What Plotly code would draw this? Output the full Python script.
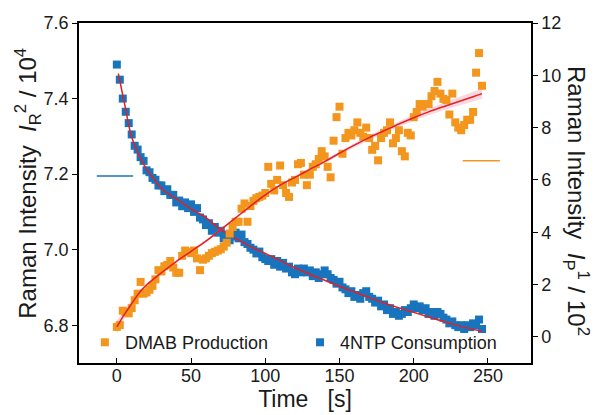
import plotly.graph_objects as go

# ---------------- data ----------------
t_data = list(range(0, 248, 2))  # 0..246

ntp_vals = [7.49, 7.45, 7.40, 7.365, 7.335, 7.305, 7.275, 7.265, 7.245, 7.235,
            7.21, 7.205, 7.19, 7.185, 7.17, 7.17, 7.155, 7.16, 7.145, 7.145,
            7.125, 7.13, 7.115, 7.125, 7.11, 7.12, 7.10, 7.11, 7.085, 7.08,
            7.065, 7.07, 7.05, 7.06, 7.045, 7.05, 7.03, 7.04, 7.025, 7.035,
            7.045, 7.03, 7.04, 7.02, 7.015, 7.005, 7.00, 6.99, 6.995, 6.98,
            6.975, 6.97, 6.975, 6.96, 6.97, 6.955, 6.965, 6.95, 6.955, 6.94,
            6.935, 6.95, 6.94, 6.95, 6.94, 6.945, 6.93, 6.94, 6.925, 6.935,
            6.945, 6.935, 6.925, 6.92, 6.91, 6.915, 6.90, 6.895, 6.885, 6.89,
            6.875, 6.88, 6.87, 6.885, 6.89, 6.875, 6.87, 6.86, 6.865, 6.85,
            6.855, 6.84, 6.845, 6.83, 6.835, 6.825, 6.83, 6.84, 6.835, 6.845,
            6.855, 6.845, 6.85, 6.84, 6.845, 6.83, 6.835, 6.825, 6.835, 6.83,
            6.82, 6.815, 6.805, 6.81, 6.80, 6.795, 6.80, 6.79, 6.80, 6.795,
            6.805, 6.80, 6.815, 6.79]

dmab_vals = [0.38, 0.45, 1.00, 0.95, 0.90, 1.10, 1.40, 1.65, 2.10, 1.65,
             1.70, 1.80, 1.95, 2.20, 2.55, 2.50, 2.70, 2.75, 2.90, 2.65,
             2.45, 2.45, 3.10, 3.30, 3.25, 3.20, 3.30, 3.00, 2.55, 2.95,
             3.00, 3.10, 3.20, 3.25, 3.30, 3.35, 3.45, 3.60, 3.95, 4.20,
             4.40, 4.40, 4.90, 5.10, 4.40, 5.00, 5.20, 5.30, 5.35, 5.40,
             5.50, 6.50, 5.85, 5.60, 6.00, 6.55, 5.80, 5.50, 5.35, 5.90,
             6.00, 6.60, 6.65, 6.20, 5.80, 6.20, 6.50, 6.60, 6.80, 7.10,
             6.90, 6.50, 6.10, 7.50, 8.40, 8.80, 7.00, 7.60, 7.80, 7.70,
             7.90, 8.20, 7.80, 7.65, 8.00, 7.60, 7.15, 7.30, 6.75, 7.60,
             7.80, 7.90, 8.20, 7.40, 7.60, 7.90, 7.10, 6.90, 7.80, 7.70,
             8.40, 8.60, 8.90, 8.80, 8.90, 8.90, 9.20, 9.40, 9.75, 9.30,
             9.10, 9.05, 8.50, 9.30, 8.20, 8.00, 7.90, 8.10, 8.30, 8.30,
             8.60, 10.10, 10.85, 9.60]

t_fit_ntp = [1, 5, 10, 15, 20, 25, 30, 35, 40, 50, 60, 70, 80, 90, 100, 110,
             120, 130, 140, 150, 160, 170, 180, 190, 200, 210, 220, 230, 240, 246]
ntp_fit = [7.466, 7.39, 7.298, 7.25, 7.213, 7.187, 7.162, 7.147, 7.135, 7.108,
           7.085, 7.053, 7.030, 7.008, 6.990, 6.971, 6.952, 6.935, 6.919, 6.903,
           6.888, 6.873, 6.859, 6.846, 6.834, 6.822, 6.810, 6.799, 6.789, 6.784]
ntp_band = [0.006, 0.004, 0.003, 0.002, 0.002, 0.002, 0.002, 0.002, 0.002, 0.002,
            0.002, 0.002, 0.002, 0.002, 0.002, 0.002, 0.002, 0.002, 0.002, 0.002,
            0.002, 0.002, 0.002, 0.002, 0.002, 0.002, 0.002, 0.003, 0.003, 0.004]

t_fit_dmab = [0, 5, 10, 15, 20, 30, 40, 50, 60, 70, 80, 90, 100, 110, 120,
              130, 140, 150, 160, 170, 180, 190, 200, 210, 220, 230, 240, 246]
dmab_fit = [0.38, 0.85, 1.27, 1.68, 1.98, 2.45, 2.88, 3.27, 3.66, 4.10, 4.55,
            5.00, 5.43, 5.80, 6.10, 6.40, 6.70, 7.02, 7.33, 7.62, 7.88, 8.14,
            8.38, 8.60, 8.80, 8.99, 9.18, 9.30]
dmab_band = [0.25, 0.18, 0.12, 0.09, 0.07, 0.05, 0.05, 0.05, 0.05, 0.05, 0.05,
             0.05, 0.05, 0.05, 0.05, 0.05, 0.06, 0.07, 0.08, 0.09, 0.10, 0.11,
             0.12, 0.13, 0.14, 0.16, 0.18, 0.20]

# axis-indicator lines
ntp_marker_x = [-13.5, 11]
ntp_marker_y = [7.195, 7.195]
dmab_marker_x = [233, 258]
dmab_marker_y = [6.73, 6.73]

x_ticks = [0, 50, 100, 150, 200, 250]
left_ticks = [6.8, 7.0, 7.2, 7.4, 7.6]
right_ticks = [0, 2, 4, 6, 8, 10, 12]

BLUE = "#1874bd"
ORANGE = "#f2961d"
RED = "#e41f26"
BAND = "rgba(240,140,160,0.35)"
FONT = "Liberation Sans, Arial, sans-serif"
TXT = "#1a1a1a"

fig = go.Figure()

# bands
fig.add_trace(go.Scatter(
    x=t_fit_dmab + t_fit_dmab[::-1],
    y=[v + b for v, b in zip(dmab_fit, dmab_band)] + [v - b for v, b in zip(dmab_fit, dmab_band)][::-1],
    fill="toself", fillcolor=BAND, line=dict(width=0), mode="lines",
    yaxis="y2", showlegend=False, hoverinfo="skip"))
fig.add_trace(go.Scatter(
    x=t_fit_ntp + t_fit_ntp[::-1],
    y=[v + b for v, b in zip(ntp_fit, ntp_band)] + [v - b for v, b in zip(ntp_fit, ntp_band)][::-1],
    fill="toself", fillcolor=BAND, line=dict(width=0), mode="lines",
    showlegend=False, hoverinfo="skip"))

# data
fig.add_trace(go.Scatter(
    x=t_data, y=dmab_vals, mode="markers", name="DMAB Production", yaxis="y2",
    legend="legend", marker=dict(symbol="square", size=8, color=ORANGE)))
fig.add_trace(go.Scatter(
    x=t_data, y=ntp_vals, mode="markers", name="4NTP Consumption",
    legend="legend2", marker=dict(symbol="square", size=8, color=BLUE)))

# fits
fig.add_trace(go.Scatter(
    x=t_fit_dmab, y=dmab_fit, mode="lines", line=dict(color=RED, width=1.5, shape="spline"),
    yaxis="y2", showlegend=False))
fig.add_trace(go.Scatter(
    x=t_fit_ntp, y=ntp_fit, mode="lines", line=dict(color=RED, width=1.5, shape="spline"),
    showlegend=False))

# indicator lines
fig.add_trace(go.Scatter(x=ntp_marker_x, y=ntp_marker_y, mode="lines",
                         line=dict(color=BLUE, width=1.5), showlegend=False))
fig.add_trace(go.Scatter(x=dmab_marker_x, y=dmab_marker_y, mode="lines", yaxis="y2",
                         line=dict(color=ORANGE, width=1.5), showlegend=False))

axis_common = dict(showgrid=False, zeroline=False, showline=True, linecolor="black",
                   linewidth=1.5, tickcolor="black", tickwidth=1.2,
                   tickfont=dict(family=FONT, size=18, color=TXT))

legend_common = dict(orientation="h", yanchor="middle", xanchor="left",
                     bgcolor="rgba(0,0,0,0)", itemwidth=30,
                     font=dict(family=FONT, size=18, color=TXT))

fig.update_layout(
    width=598, height=415,
    margin=dict(l=79, r=67, t=23, b=52),
    paper_bgcolor="white", plot_bgcolor="white",
    font=dict(family=FONT, color=TXT),
    xaxis=dict(range=[-25.5, 279], tickvals=x_ticks, ticks="inside", ticklen=5,
               mirror=True, ticklabelstandoff=-4, **axis_common,
               title=dict(text="Time\u00a0\u00a0\u00a0[s]", font=dict(family=FONT, size=23, color=TXT),
                          standoff=2)),
    yaxis=dict(range=[6.7, 7.6], tickvals=left_ticks, tickformat=".1f", ticks="outside",
               ticklen=5, **axis_common),
    yaxis2=dict(range=[-1, 12], tickvals=right_ticks, ticks="outside", ticklen=5,
                overlaying="y", side="right", **axis_common),
    legend=dict(x=0.013, y=0.06, **legend_common),
    legend2=dict(x=0.489, y=0.06, **legend_common),
    annotations=[
        dict(text="Raman Intensity\u00a0\u00a0<i>I</i><sub>R</sub><sup>2</sup> / 10<sup>4</sup>",
             xref="paper", yref="paper", x=-0.113, y=0.53, textangle=-90,
             showarrow=False, xanchor="center", yanchor="middle",
             font=dict(family=FONT, size=24, color=TXT)),
        dict(text="Raman Intensity\u00a0\u00a0<i>I</i><sub>P</sub><sup>1</sup> / 10<sup>2</sup>",
             xref="paper", yref="paper", x=1.10, y=0.476, textangle=90,
             showarrow=False, xanchor="center", yanchor="middle",
             font=dict(family=FONT, size=24, color=TXT)),
    ],
)

fig.write_html("out.html", config={"displayModeBar": False},
               post_script="document.body.style.margin='0px';document.body.style.overflow='hidden';")
